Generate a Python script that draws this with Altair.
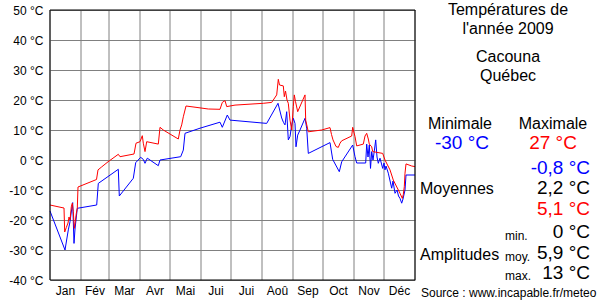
import altair as alt
import pandas as pd

# ---- data ----
max_days = [0, 11, 14, 14.7, 16.3, 18, 19, 20, 21.3, 22.3, 23.3, 24.3, 25.3, 26.3, 27.3, 28,
            46.5, 48, 51.3, 58, 68.3, 70, 84, 86, 90, 92.3, 93.3, 95, 96.7, 108.3, 110, 113.3,
            128.3, 130, 131.7, 133.3, 136, 145, 158.3, 170, 172.3, 175, 176.7, 185, 213.3, 221.7,
            226.7, 228.3, 229.5, 233.3, 234.3, 235.5, 237, 238.3, 240, 241.7, 243.3, 244.3, 245.5,
            247.7, 255, 255.7, 258.3, 271.7, 280, 281.5, 283, 286, 288.3, 290, 291.7, 301.7, 302.7,
            305, 306.7, 313.3, 315, 316.7, 318.3, 319.3, 321.7, 322.7, 332.7, 335, 340, 343.3, 350,
            352.3, 353.3, 354.3, 355, 356, 361.7, 365]
max_temps = [-15, -15.8, -16, -24, -22.5, -21, -19, -20, -15.6, -14.4, -17.2, -22.8, -20.5, -17.8, -16, -9,
             -6.5, -3.3, -2.4, -0.6, 1.9, 1.1, 2.0, 5.6, 6.1, 8.1, 5.6, 2.8, 6.1, 5.3, 10.9, 10,
             7, 10, 11.7, 14.4, 18, 17.6, 17, 16.9, 19.2, 19.8, 17.8, 18.3, 18.9, 19.2,
             21.7, 26.9, 25, 24.7, 21.1, 23, 20, 18.9, 13.3, 10, 17.8, 21.7, 19.5,
             16.1, 21.7, 13.3, 9.4, 10, 10.8, 8.5, 6.7, 4.5, 4.2, 5.6, 6.4, 8, 10.9,
             7.8, 4.7, 5.3, 8, 8.9, 7, 5.3, 4.4, 2.8, 2.2, 0, -3.3, -6.7, -11.1,
             -12.8, -11.5, -8.9, -4.4, -1.3, -2, -2.2]

min_days = [0, 15, 18.3, 20, 21, 22.7, 24, 25, 27.3, 46.7, 48.3, 68.3, 69.3, 83.3, 85.7, 90.7,
            93.3, 95, 97.3, 108.3, 110, 130.7, 133.3, 135, 150, 170, 172.3, 177.3, 180, 216.7,
            228, 231.7, 233.5, 235, 236.7, 238.3, 240, 241.7, 243.3, 245, 246, 247.7, 250, 255,
            256.7, 258.3, 280, 282.7, 289.3, 291.7, 302.7, 305, 306.7, 315.7, 316.7, 318, 319.3,
            320.5, 321.7, 323, 324.3, 325.7, 327, 328.3, 330, 332.7, 334, 335, 336, 338.3, 341.7,
            343, 345, 347, 348.5, 350, 351.7, 353, 355, 356, 365]
min_temps = [-17, -30, -23.3, -20.6, -18, -14.2, -27.8, -23, -16.1, -15, -7.8, -3.1, -12, -6.1, -0.9, 0.9,
             0.2, -1.1, 0.6, -1.9, 0, 1.1, 3.3, 8.9, 10.6, 12.6, 10.9, 15, 13.3, 12.2,
             18.9, 14, 12.5, 11.7, 16.1, 6.7, 7.8, 11.7, 13.9, 12.2, 4.4, 8.3, 10, 13.9,
             10.6, 2.2, 5.8, 0.2, -3.9, -0.6, 5, 1.1, -1, -1, 5.3, 1, 5,
             -2.8, 2.8, 0, 3, 6.7, 1, -1.1, 0.6, -2.8, -1, -3.3, -2, -4.4, -9.4,
             -7, -11.1, -10, -12, -12.8, -14.4, -13, -10, -5, -5]

month_names = ["Jan", "Fév", "Mar", "Avr", "Mai", "Jui", "Jui", "Aoû", "Sep", "Oct", "Nov", "Déc"]
month_starts = [0, 31, 59, 90, 120, 151, 181, 212, 243, 273, 304, 334, 365]
y_ticks = [-40, -30, -20, -10, 0, 10, 20, 30, 40, 50]

title_lines = ["Températures de", "l'année 2009", "Cacouna", "Québec"]
stat_labels = ["Minimale", "Maximale"]
stat_values = ["-30 °C", "27 °C"]
avg_values = ["-0,8 °C", "2,2 °C", "5,1 °C"]
amp_labels = ["min.", "moy.", "max."]
amp_values = ["0 °C", "5,9 °C", "13 °C"]
source_text = "Source : www.incapable.fr/meteo"

FONT = "Liberation Sans"
W, H = 365, 270
OX, OY = 50, 10

df_max = pd.DataFrame({"day": max_days, "t": max_temps})
df_min = pd.DataFrame({"day": min_days, "t": min_temps})
df_grid = pd.DataFrame({"day": month_starts})
df_months = pd.DataFrame({
    "mid": [(month_starts[i] + month_starts[i + 1]) / 2 for i in range(12)],
    "name": month_names,
})

xs = alt.Scale(domain=[0, 365], nice=False, zero=False)
ys = alt.Scale(domain=[-40, 50], nice=False, zero=False)

yaxis = alt.Axis(values=y_ticks, labelExpr="datum.value + ' °C'", grid=True,
                 gridColor="#808080", gridWidth=1, gridOpacity=1, domain=False,
                 ticks=False, tickSize=0, labelPadding=7, labelFont=FONT,
                 labelFontSize=12, labelColor="black", title=None)

base_y = alt.Y("t:Q", scale=ys, axis=yaxis)

vgrid = alt.Chart(df_grid).mark_rule(color="#808080", strokeWidth=1).encode(
    x=alt.X("day:Q", scale=xs, axis=None))

blue = alt.Chart(df_min).mark_line(color="#0000ff", strokeWidth=1).encode(
    x=alt.X("day:Q", scale=xs, axis=None), y=base_y)
red = alt.Chart(df_max).mark_line(color="#ff0000", strokeWidth=1).encode(
    x=alt.X("day:Q", scale=xs, axis=None), y=alt.Y("t:Q", scale=ys, axis=yaxis))

mlabels = alt.Chart(df_months).mark_text(font=FONT, fontSize=12, color="black",
                                         baseline="top", align="center").encode(
    x=alt.X("mid:Q", scale=xs, axis=None), y=alt.value(H + 6), text="name:N")

frame = alt.Chart(pd.DataFrame({"a": [0]})).mark_rect(
    fill=None, stroke="black", strokeWidth=1, fillOpacity=0).encode(
    x=alt.value(0), x2=alt.value(W), y=alt.value(0), y2=alt.value(H))

one = pd.DataFrame({"a": [0]})


def txt(s, px, py, size, color="black", align="center"):
    return alt.Chart(one).mark_text(text=s, font=FONT, fontSize=size, color=color,
                                    align=align, baseline="middle").encode(
        x=alt.value(px - OX), y=alt.value(py - OY))


panel = [
    txt(title_lines[0], 508, 10, 16),
    txt(title_lines[1], 508, 29, 16),
    txt(title_lines[2], 508, 57, 16),
    txt(title_lines[3], 508, 76, 16),
    txt(stat_labels[0], 460, 124, 16),
    txt(stat_labels[1], 553, 124, 16),
    txt(stat_values[0], 462, 143, 19, "#0000ff"),
    txt(stat_values[1], 553, 143, 19, "#ff0000"),
    txt(avg_values[0], 590, 168, 19, "#0000ff", "right"),
    txt(avg_values[1], 590, 188, 19, "black", "right"),
    txt(avg_values[2], 590, 209, 19, "#ff0000", "right"),
    txt("Moyennes", 420, 189, 16, "black", "left"),
    txt(amp_labels[0], 505, 236, 12, "black", "left"),
    txt(amp_labels[1], 505, 257, 12, "black", "left"),
    txt(amp_labels[2], 505, 276, 12, "black", "left"),
    txt(amp_values[0], 590, 232, 19, "black", "right"),
    txt(amp_values[1], 590, 253, 19, "black", "right"),
    txt(amp_values[2], 590, 273, 19, "black", "right"),
    txt("Amplitudes", 420, 255, 16, "black", "left"),
    txt(source_text, 421, 293, 12, "black", "left"),
]

chart = alt.layer(vgrid, blue, red, mlabels, frame, *panel).properties(
    width=W, height=H,
    autosize=alt.AutoSizeParams(type="none"),
    padding={"left": OX, "top": OY, "right": 600 - OX - W, "bottom": 300 - OY - H},
    background="white",
).configure_view(stroke=None)

chart.save("out.html", embed_options={"renderer": "svg", "actions": False})
